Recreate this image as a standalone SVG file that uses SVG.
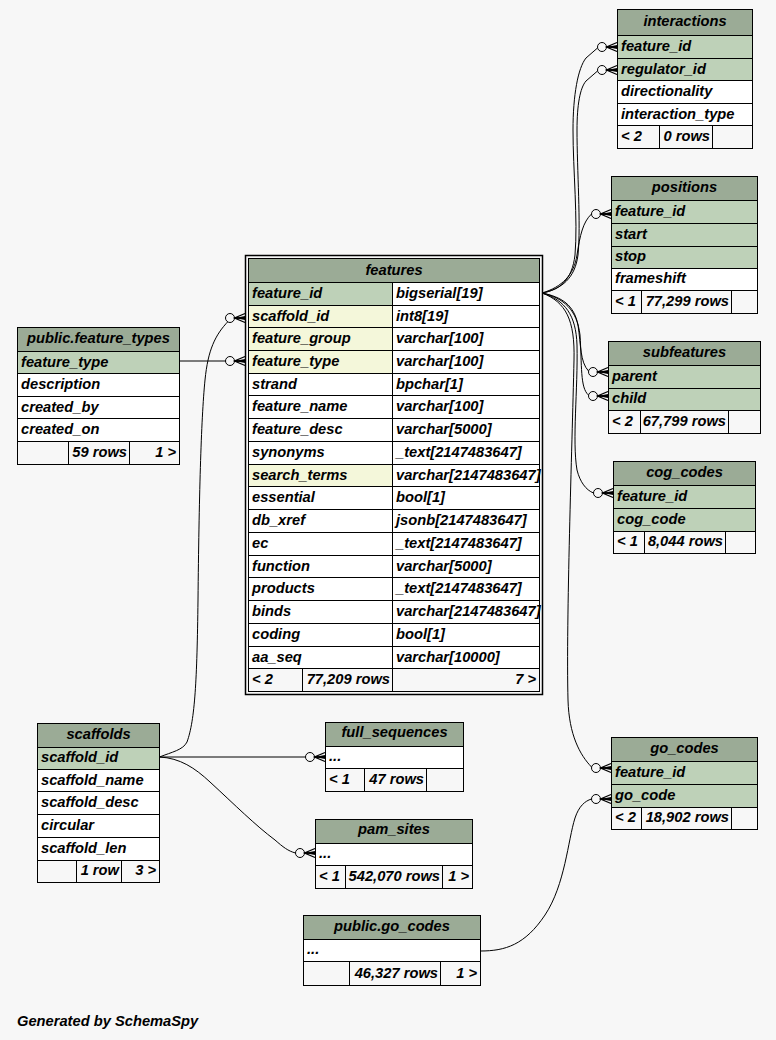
<svg xmlns="http://www.w3.org/2000/svg" xmlns:xlink="http://www.w3.org/1999/xlink" width="776" height="1040" viewBox="0 0 776 1040">
<style>
.c{stroke:#000;stroke-width:1}
.hd{fill:#9bab96}
.pk{fill:#bed1b8}
.ix{fill:#f4f7da}
.w{fill:#ffffff}
.ft{fill:#f7f7f7}
text{font-family:"Liberation Sans",Arial,Helvetica,sans-serif;font-size:14.7px;font-weight:bold;font-style:italic;fill:#000}
.m{text-anchor:middle}
.r{text-anchor:end}
.e{fill:none;stroke:#000;stroke-width:1}
</style>
<defs>
  <!-- zero-or-many end: open circle plus crow's foot, tip at the table edge -->
  <g id="crowodot">
    <circle cx="-15" cy="0" r="4.5" fill="#f7f7f7" stroke="#000" stroke-width="1"/>
    <path d="M0,-4.5 L-10.5,0 L0,4.5 M-10.5,0 H0" fill="none" stroke="#000" stroke-width="1.3"/>
    <polygon points="-10.5,0 0,-2 0,2" fill="#000"/>
  </g>
</defs>
<rect width="776" height="1040" fill="#f7f7f7"/>

<g id="connectors">
  <path class="e" d="M542,293 C560,290 572,280 575,255 C578,220 573,170 573,130 C573,95 578,68 586,58 L597.5,48"/>
  <path class="e" d="M542,293 C562,289 575,278 578,255 C581,225 577,170 577,130 C577,105 580,88 586,81 L597.5,71"/>
  <path class="e" d="M542,293 C562,287 574,275 577,255 C580,235 583,222 591.5,214"/>
  <path class="e" d="M542,293 C562,297 574,305 578,325 C581,345 580,362 588.5,371"/>
  <path class="e" d="M542,293 C564,298 577,310 580,335 C582,365 580,388 588.5,395"/>
  <path class="e" d="M542,293 C565,300 576,315 577,345 C578,390 572,440 577,470 C580,482 586,490 593.5,493"/>
  <path class="e" d="M542,293 C566,302 575,320 574,360 C572,450 566,620 568,700 C569,735 580,755 591.5,767"/>
  <path class="e" d="M480.5,951 C505,951 525,945 545,915 C565,885 568,840 575,818 C579,806 585,801 591.5,799"/>
  <path class="e" d="M159.5,757 C172,752 183,750 187,742 C195,720 197,680 198,600 C199,500 201,420 205,380 C208,350 215,335 228.5,321"/>
  <path class="e" d="M159.5,757 L305.5,757"/>
  <path class="e" d="M159.5,757 C180,758 195,768 210,782 C235,805 255,825 275,840 C283,847 288,851 295.5,853"/>
  <path class="e" d="M179.5,361 L226.5,361"/>
  <use xlink:href="#crowodot" x="617" y="47"/>
  <use xlink:href="#crowodot" x="617" y="70"/>
  <use xlink:href="#crowodot" x="611" y="214"/>
  <use xlink:href="#crowodot" x="608" y="372"/>
  <use xlink:href="#crowodot" x="608" y="396"/>
  <use xlink:href="#crowodot" x="613" y="493"/>
  <use xlink:href="#crowodot" x="611" y="768"/>
  <use xlink:href="#crowodot" x="611" y="799"/>
  <use xlink:href="#crowodot" x="245" y="318"/>
  <use xlink:href="#crowodot" x="245" y="361"/>
  <use xlink:href="#crowodot" x="325" y="757"/>
  <use xlink:href="#crowodot" x="315" y="853"/>
</g>

<g id="features">
  <rect x="245.5" y="255.5" width="297" height="439" fill="none" stroke="#000" stroke-width="1.5"/>
  <rect class="hd c" x="248.5" y="258.5" width="291" height="24"/>
  <text class="m" x="394" y="274.5">features</text>
  <rect class="pk c" x="248.5" y="282.5" width="144" height="23"/><rect class="w c" x="392.5" y="282.5" width="147" height="23"/>
  <rect class="ix c" x="248.5" y="305.5" width="144" height="22"/><rect class="w c" x="392.5" y="305.5" width="147" height="22"/>
  <rect class="ix c" x="248.5" y="327.5" width="144" height="23"/><rect class="w c" x="392.5" y="327.5" width="147" height="23"/>
  <rect class="ix c" x="248.5" y="350.5" width="144" height="23"/><rect class="w c" x="392.5" y="350.5" width="147" height="23"/>
  <rect class="w c" x="248.5" y="373.5" width="144" height="22"/><rect class="w c" x="392.5" y="373.5" width="147" height="22"/>
  <rect class="w c" x="248.5" y="395.5" width="144" height="23"/><rect class="w c" x="392.5" y="395.5" width="147" height="23"/>
  <rect class="w c" x="248.5" y="418.5" width="144" height="23"/><rect class="w c" x="392.5" y="418.5" width="147" height="23"/>
  <rect class="w c" x="248.5" y="441.5" width="144" height="23"/><rect class="w c" x="392.5" y="441.5" width="147" height="23"/>
  <rect class="ix c" x="248.5" y="464.5" width="144" height="22"/><rect class="w c" x="392.5" y="464.5" width="147" height="22"/>
  <rect class="w c" x="248.5" y="486.5" width="144" height="23"/><rect class="w c" x="392.5" y="486.5" width="147" height="23"/>
  <rect class="w c" x="248.5" y="509.5" width="144" height="23"/><rect class="w c" x="392.5" y="509.5" width="147" height="23"/>
  <rect class="w c" x="248.5" y="532.5" width="144" height="23"/><rect class="w c" x="392.5" y="532.5" width="147" height="23"/>
  <rect class="w c" x="248.5" y="555.5" width="144" height="22"/><rect class="w c" x="392.5" y="555.5" width="147" height="22"/>
  <rect class="w c" x="248.5" y="577.5" width="144" height="23"/><rect class="w c" x="392.5" y="577.5" width="147" height="23"/>
  <rect class="w c" x="248.5" y="600.5" width="144" height="23"/><rect class="w c" x="392.5" y="600.5" width="147" height="23"/>
  <rect class="w c" x="248.5" y="623.5" width="144" height="23"/><rect class="w c" x="392.5" y="623.5" width="147" height="23"/>
  <rect class="w c" x="248.5" y="646.5" width="144" height="22"/><rect class="w c" x="392.5" y="646.5" width="147" height="22"/>
  <rect class="ft c" x="248.5" y="668.5" width="54" height="23"/><rect class="ft c" x="302.5" y="668.5" width="90" height="23"/><rect class="ft c" x="392.5" y="668.5" width="147" height="23"/>
  <text x="252" y="298">feature_id</text><text x="396" y="298">bigserial[19]</text>
  <text x="252" y="321">scaffold_id</text><text x="396" y="321">int8[19]</text>
  <text x="252" y="343">feature_group</text><text x="396" y="343">varchar[100]</text>
  <text x="252" y="366">feature_type</text><text x="396" y="366">varchar[100]</text>
  <text x="252" y="389">strand</text><text x="396" y="389">bpchar[1]</text>
  <text x="252" y="411">feature_name</text><text x="396" y="411">varchar[100]</text>
  <text x="252" y="434">feature_desc</text><text x="396" y="434">varchar[5000]</text>
  <text x="252" y="457">synonyms</text><text x="396" y="457">_text[2147483647]</text>
  <text x="252" y="480">search_terms</text><text x="396" y="480">varchar[2147483647]</text>
  <text x="252" y="502">essential</text><text x="396" y="502">bool[1]</text>
  <text x="252" y="525">db_xref</text><text x="396" y="525">jsonb[2147483647]</text>
  <text x="252" y="548">ec</text><text x="396" y="548">_text[2147483647]</text>
  <text x="252" y="571">function</text><text x="396" y="571">varchar[5000]</text>
  <text x="252" y="593">products</text><text x="396" y="593">_text[2147483647]</text>
  <text x="252" y="616">binds</text><text x="396" y="616">varchar[2147483647]</text>
  <text x="252" y="639">coding</text><text x="396" y="639">bool[1]</text>
  <text x="252" y="662">aa_seq</text><text x="396" y="662">varchar[10000]</text>
  <text x="252" y="684">&lt; 2</text><text class="r" x="390" y="684">77,209 rows</text><text class="r" x="536" y="684">7 &gt;</text>
</g>

<g id="interactions">
  <rect class="hd c" x="617.5" y="9.5" width="135" height="26"/>
  <text class="m" x="685" y="25.5">interactions</text>
  <rect class="pk c" x="617.5" y="35.5" width="135" height="23"/>
  <rect class="pk c" x="617.5" y="58.5" width="135" height="22"/>
  <rect class="w c" x="617.5" y="80.5" width="135" height="23"/>
  <rect class="w c" x="617.5" y="103.5" width="135" height="22"/>
  <rect class="ft c" x="617.5" y="125.5" width="42" height="23"/><rect class="ft c" x="659.5" y="125.5" width="53" height="23"/><rect class="ft c" x="712.5" y="125.5" width="40" height="23"/>
  <text x="621" y="50.5">feature_id</text>
  <text x="621" y="73.5">regulator_id</text>
  <text x="621" y="95.5">directionality</text>
  <text x="621" y="118.5">interaction_type</text>
  <text x="621" y="140.5">&lt; 2</text><text class="r" x="710" y="140.5">0 rows</text>
</g>

<g id="positions">
  <rect class="hd c" x="611.5" y="176.5" width="146" height="24"/>
  <text class="m" x="684.5" y="192">positions</text>
  <rect class="pk c" x="611.5" y="200.5" width="146" height="23"/>
  <rect class="pk c" x="611.5" y="223.5" width="146" height="23"/>
  <rect class="pk c" x="611.5" y="246.5" width="146" height="22"/>
  <rect class="w c" x="611.5" y="268.5" width="146" height="22"/>
  <rect class="ft c" x="611.5" y="290.5" width="30" height="23"/><rect class="ft c" x="641.5" y="290.5" width="90" height="23"/><rect class="ft c" x="731.5" y="290.5" width="26" height="23"/>
  <text x="615" y="215.5">feature_id</text>
  <text x="615" y="238.5">start</text>
  <text x="615" y="261">stop</text>
  <text x="615" y="283">frameshift</text>
  <text x="615" y="305.5">&lt; 1</text><text class="r" x="729" y="305.5">77,299 rows</text>
</g>

<g id="subfeatures">
  <rect class="hd c" x="608.5" y="341.5" width="152" height="24"/>
  <text class="m" x="684.5" y="357">subfeatures</text>
  <rect class="pk c" x="608.5" y="365.5" width="152" height="23"/>
  <rect class="pk c" x="608.5" y="388.5" width="152" height="22"/>
  <rect class="ft c" x="608.5" y="410.5" width="32" height="23"/><rect class="ft c" x="640.5" y="410.5" width="88" height="23"/><rect class="ft c" x="728.5" y="410.5" width="32" height="23"/>
  <text x="612" y="380.5">parent</text>
  <text x="612" y="403">child</text>
  <text x="612" y="425.5">&lt; 2</text><text class="r" x="726" y="425.5">67,799 rows</text>
</g>

<g id="cog_codes">
  <rect class="hd c" x="613.5" y="461.5" width="142" height="24"/>
  <text class="m" x="684.5" y="477">cog_codes</text>
  <rect class="pk c" x="613.5" y="485.5" width="142" height="23"/>
  <rect class="pk c" x="613.5" y="508.5" width="142" height="23"/>
  <rect class="ft c" x="613.5" y="531.5" width="31" height="22"/><rect class="ft c" x="644.5" y="531.5" width="81" height="22"/><rect class="ft c" x="725.5" y="531.5" width="30" height="22"/>
  <text x="617" y="500.5">feature_id</text>
  <text x="617" y="523.5">cog_code</text>
  <text x="617" y="546">&lt; 1</text><text class="r" x="723" y="546">8,044 rows</text>
</g>

<g id="go_codes">
  <rect class="hd c" x="611.5" y="737.5" width="146" height="24"/>
  <text class="m" x="684.5" y="753">go_codes</text>
  <rect class="pk c" x="611.5" y="761.5" width="146" height="23"/>
  <rect class="pk c" x="611.5" y="784.5" width="146" height="23"/>
  <rect class="ft c" x="611.5" y="807.5" width="30" height="22"/><rect class="ft c" x="641.5" y="807.5" width="90" height="22"/><rect class="ft c" x="731.5" y="807.5" width="26" height="22"/>
  <text x="615" y="776.5">feature_id</text>
  <text x="615" y="799.5">go_code</text>
  <text x="615" y="822">&lt; 2</text><text class="r" x="729" y="822">18,902 rows</text>
</g>

<g id="public.feature_types">
  <rect class="hd c" x="17.5" y="327.5" width="162" height="24"/>
  <text class="m" x="98.5" y="343">public.feature_types</text>
  <rect class="pk c" x="17.5" y="351.5" width="162" height="22"/>
  <rect class="w c" x="17.5" y="373.5" width="162" height="23"/>
  <rect class="w c" x="17.5" y="396.5" width="162" height="22"/>
  <rect class="w c" x="17.5" y="418.5" width="162" height="23"/>
  <rect class="ft c" x="17.5" y="441.5" width="51" height="23"/><rect class="ft c" x="68.5" y="441.5" width="61" height="23"/><rect class="ft c" x="129.5" y="441.5" width="50" height="23"/>
  <text x="21" y="366.5">feature_type</text>
  <text x="21" y="388.5">description</text>
  <text x="21" y="411.5">created_by</text>
  <text x="21" y="433.5">created_on</text>
  <text class="r" x="127" y="456.5">59 rows</text><text class="r" x="176" y="456.5">1 &gt;</text>
</g>

<g id="scaffolds">
  <rect class="hd c" x="37.5" y="723.5" width="122" height="24"/>
  <text class="m" x="98.5" y="738.5">scaffolds</text>
  <rect class="pk c" x="37.5" y="747.5" width="122" height="22"/>
  <rect class="w c" x="37.5" y="769.5" width="122" height="22"/>
  <rect class="w c" x="37.5" y="791.5" width="122" height="23"/>
  <rect class="w c" x="37.5" y="814.5" width="122" height="23"/>
  <rect class="w c" x="37.5" y="837.5" width="122" height="23"/>
  <rect class="ft c" x="37.5" y="860.5" width="39" height="22"/><rect class="ft c" x="76.5" y="860.5" width="45" height="22"/><rect class="ft c" x="121.5" y="860.5" width="38" height="22"/>
  <text x="41" y="762">scaffold_id</text>
  <text x="41" y="784.5">scaffold_name</text>
  <text x="41" y="806.5">scaffold_desc</text>
  <text x="41" y="829.5">circular</text>
  <text x="41" y="852.5">scaffold_len</text>
  <text class="r" x="119" y="874.5">1 row</text><text class="r" x="156" y="874.5">3 &gt;</text>
</g>

<g id="full_sequences">
  <rect class="hd c" x="325.5" y="722.5" width="138" height="24"/>
  <text class="m" x="394.5" y="737">full_sequences</text>
  <rect class="w c" x="325.5" y="746.5" width="138" height="22"/>
  <rect class="ft c" x="325.5" y="768.5" width="39" height="23"/><rect class="ft c" x="364.5" y="768.5" width="62" height="23"/><rect class="ft c" x="426.5" y="768.5" width="37" height="23"/>
  <text x="329" y="761">...</text>
  <text x="329" y="783.5">&lt; 1</text><text class="r" x="424" y="783.5">47 rows</text>
</g>

<g id="pam_sites">
  <rect class="hd c" x="315.5" y="819.5" width="157" height="24"/>
  <text class="m" x="394" y="834">pam_sites</text>
  <rect class="w c" x="315.5" y="843.5" width="157" height="22"/>
  <rect class="ft c" x="315.5" y="865.5" width="30" height="23"/><rect class="ft c" x="345.5" y="865.5" width="97" height="23"/><rect class="ft c" x="442.5" y="865.5" width="30" height="23"/>
  <text x="319" y="858">...</text>
  <text x="319" y="880.5">&lt; 1</text><text class="r" x="440" y="880.5">542,070 rows</text><text class="r" x="469" y="880.5">1 &gt;</text>
</g>

<g id="public.go_codes">
  <rect class="hd c" x="303.5" y="915.5" width="177" height="24"/>
  <text class="m" x="392" y="931">public.go_codes</text>
  <rect class="w c" x="303.5" y="939.5" width="177" height="22"/>
  <rect class="ft c" x="303.5" y="961.5" width="46" height="24"/><rect class="ft c" x="349.5" y="961.5" width="91" height="24"/><rect class="ft c" x="440.5" y="961.5" width="40" height="24"/>
  <text x="307" y="954">...</text>
  <text class="r" x="438" y="977.5">46,327 rows</text><text class="r" x="477" y="977.5">1 &gt;</text>
</g>

<text x="17" y="1025.5">Generated by SchemaSpy</text>
</svg>
